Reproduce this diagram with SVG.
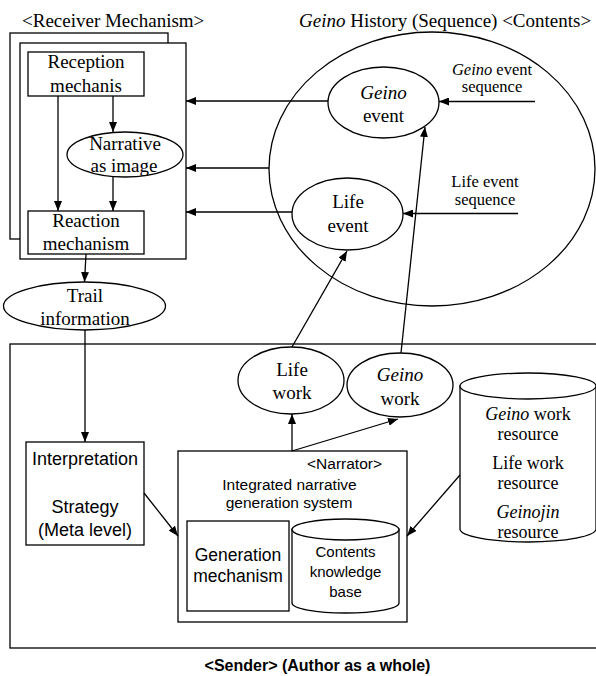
<svg xmlns="http://www.w3.org/2000/svg" width="596" height="676" viewBox="0 0 596 676">
<defs>
<marker id="ah" viewBox="0 0 10 8" refX="10" refY="4" markerWidth="10" markerHeight="8" markerUnits="userSpaceOnUse" orient="auto"><path d="M0,0 L10,4 L0,8 z" fill="#000"/></marker>
</defs>
<style>
.s{fill:none;stroke:#000;stroke-width:1.3}
.w{fill:#fff;stroke:#000;stroke-width:1.3}
.c{fill:none;stroke:#000;stroke-width:1.3;marker-end:url(#ah)}
.l{fill:none;stroke:#000;stroke-width:1.3}
.t{font-family:"Liberation Serif","Times New Roman",serif;font-size:19px;text-anchor:middle;fill:#000}
.ts{font-size:16.5px}
.tr{font-size:18px}
.f{font-family:"Liberation Sans",Arial,sans-serif;text-anchor:middle;fill:#000}
.i{font-style:italic}
</style>
<rect x="0" y="0" width="596" height="676" fill="#fff"/>

<g id="contents-history">
<ellipse class="s" cx="432" cy="169" rx="163" ry="137"/>
<text class="t" x="299" y="27" style="text-anchor:start"><tspan class="i">Geino</tspan> History (Sequence) &lt;Contents&gt;</text>
</g>

<g id="sender">
<rect class="s" x="10" y="344" width="592" height="304"/>
<text class="f" x="317.5" y="671" style="font-size:16px;font-weight:bold">&lt;Sender&gt; (Author as a whole)</text>
</g>

<g id="receiver">
<text class="t" x="22" y="27" style="text-anchor:start">&lt;Receiver Mechanism&gt;</text>
<rect class="w" x="10" y="33" width="158" height="206"/>
<rect class="w" x="20" y="43" width="166" height="216"/>
</g>

<g id="reception">
<rect class="w" x="28" y="52" width="116" height="44"/>
<text class="t" x="86" y="68">Reception</text>
<text class="t" x="86" y="92">mechanis</text>
</g>

<g id="narrative-image">
<ellipse class="w" cx="125" cy="154.5" rx="58" ry="22.5"/>
<text class="t" x="125" y="150">Narrative</text>
<text class="t" x="124" y="172">as image</text>
</g>

<g id="reaction">
<rect class="w" x="28" y="211" width="116" height="43"/>
<text class="t" x="86" y="227">Reaction</text>
<text class="t" x="86" y="250">mechanism</text>
</g>

<g id="trail">
<ellipse class="w" cx="84.5" cy="306" rx="81" ry="24"/>
<text class="t" x="85" y="302">Trail</text>
<text class="t" x="85" y="325">information</text>
</g>

<g id="geino-event">
<ellipse class="w" cx="383.5" cy="102.5" rx="55.5" ry="35.5"/>
<text class="t i" x="383.5" y="99">Geino</text>
<text class="t" x="383.5" y="122">event</text>
</g>

<g id="life-event">
<ellipse class="w" cx="347.5" cy="214" rx="55.5" ry="36"/>
<text class="t" x="348" y="208">Life</text>
<text class="t" x="348" y="232">event</text>
</g>

<g id="geino-seq-label">
<text class="t ts" x="492" y="75"><tspan class="i">Geino</tspan> event</text>
<text class="t ts" x="492" y="92">sequence</text>
</g>

<g id="life-seq-label">
<text class="t ts" x="485" y="187">Life event</text>
<text class="t ts" x="485" y="205">sequence</text>
</g>

<g id="interpretation">
<rect class="w" x="26" y="442" width="118" height="103"/>
<text class="f" x="85" y="465" style="font-size:18px">Interpretation</text>
<text class="f" x="85" y="513" style="font-size:18px">Strategy</text>
<text class="f" x="85" y="536" style="font-size:18px">(Meta level)</text>
</g>

<g id="narrator">
<rect class="w" x="178" y="451" width="229" height="171"/>
<text class="f" x="344.5" y="469" style="font-size:15.5px">&lt;Narrator&gt;</text>
<text class="f" x="289.5" y="490" style="font-size:15.5px">Integrated narrative</text>
<text class="f" x="289" y="508" style="font-size:15.5px">generation system</text>
</g>

<g id="generation">
<rect class="w" x="187" y="521" width="102" height="90"/>
<text class="f" x="238" y="561" style="font-size:17.5px">Generation</text>
<text class="f" x="238" y="582" style="font-size:17.5px">mechanism</text>
</g>

<g id="contents-kb">
<path class="w" d="M292,529.5 L292,603 A53.5,10 0 0 0 399,603 L399,529.5 Z"/>
<ellipse class="w" cx="345.5" cy="529.5" rx="53.5" ry="10.5"/>
<text class="f" x="345.5" y="557" style="font-size:15px">Contents</text>
<text class="f" x="345.5" y="577" style="font-size:15px">knowledge</text>
<text class="f" x="345.5" y="597" style="font-size:15px">base</text>
</g>

<g id="life-work">
<ellipse class="w" cx="291" cy="380.5" rx="53" ry="33.5"/>
<text class="t" x="292" y="376">Life</text>
<text class="t" x="292" y="399">work</text>
</g>

<g id="geino-work">
<ellipse class="w" cx="400" cy="385" rx="53" ry="32"/>
<text class="t i" x="400" y="381">Geino</text>
<text class="t" x="400" y="405">work</text>
</g>

<g id="resources">
<path class="w" d="M460,386 L460,529 A68,13 0 0 0 596,529 L596,386 Z"/>
<ellipse class="w" cx="528" cy="386" rx="68" ry="13"/>
<text class="t tr" x="528" y="420"><tspan class="i">Geino</tspan> work</text>
<text class="t tr" x="528" y="440">resource</text>
<text class="t tr" x="528" y="469">Life work</text>
<text class="t tr" x="528" y="489">resource</text>
<text class="t tr i" x="528" y="518">Geinojin</text>
<text class="t tr" x="528" y="538">resource</text>
</g>

<g id="connectors">
<path class="c" d="M58,96 L58,211"/>
<path class="c" d="M113,96 L113,132"/>
<path class="c" d="M113,177 L113,211"/>
<path class="c" d="M328,101 L186,101"/>
<path class="c" d="M269,168 L186,168"/>
<path class="c" d="M292,212 L186,212"/>
<path class="c" d="M86,254 L84.5,282"/>
<path class="c" d="M85,330 L85,442"/>
<path class="c" d="M535,101.5 L439,101.5"/>
<path class="c" d="M518,213.5 L403,213.5"/>
<path class="c" d="M292,347 L347,251"/>
<path class="c" d="M401,353 L425,127"/>
<path class="c" d="M292,451 L292,414"/>
<path class="c" d="M292,451 L398,419"/>
<path class="c" d="M144,493 L178,536"/>
<path class="c" d="M460,475 L407,536"/>
</g>
</svg>
